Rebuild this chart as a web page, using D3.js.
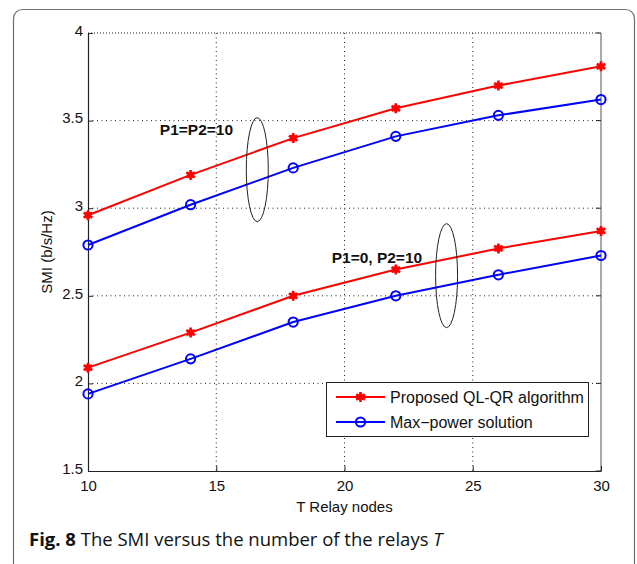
<!DOCTYPE html>
<html>
<head>
<meta charset="utf-8">
<script src="https://cdn.jsdelivr.net/npm/d3@7"></script>
<style>
  body { margin: 0; background: #fff; }
  svg { display: block; }
</style>
</head>
<body>
<svg id="chart" width="637" height="564"></svg>
<script>
// relay counts on x axis
var relays = [10, 14, 18, 22, 26, 30];

// SMI values
var qlqrHigh = [2.96, 3.19, 3.40, 3.57, 3.70, 3.81];   // P1=P2=10
var maxpHigh = [2.79, 3.02, 3.23, 3.41, 3.53, 3.62];
var qlqrLow  = [2.09, 2.29, 2.50, 2.65, 2.77, 2.87];   // P1=0, P2=10
var maxpLow  = [1.94, 2.14, 2.35, 2.50, 2.62, 2.73];

var xTicks = [10, 15, 20, 25, 30];
var yTicks = [1.5, 2, 2.5, 3, 3.5, 4];

var legendNames = ["Proposed QL-QR algorithm", "Max\u2212power solution"];

var svg = d3.select("#chart");

var margin = {left: 88, top: 33, right: 36, bottom: 93},
    width = 637 - margin.left - margin.right,
    height = 564 - margin.top - margin.bottom;

var font = "Liberation Sans, Arial, sans-serif";

// outer panel frame (rounded card, bottom runs off the page)
svg.append("rect")
    .attr("x", 13.5)
    .attr("y", 9.5)
    .attr("width", 621)
    .attr("height", 600)
    .attr("rx", 9)
    .attr("fill", "none")
    .attr("stroke", "#6e6e6e")
    .attr("stroke-width", 1.2);

var g = svg.append("g")
    .attr("transform", "translate(" + margin.left + "," + margin.top + ")");

var x = d3.scaleLinear().domain([10, 30]).range([0, width]);
var y = d3.scaleLinear().domain([1.5, 4]).range([height, 0]);

// dotted grid
g.append("g").selectAll("line")
    .data(xTicks.slice(1, -1))
    .enter().append("line")
    .attr("x1", x).attr("x2", x)
    .attr("y1", 0).attr("y2", height)
    .attr("stroke", "#222")
    .attr("stroke-width", 1)
    .attr("stroke-dasharray", "1,3.5");

g.append("g").selectAll("line")
    .data(yTicks.slice(1, -1))
    .enter().append("line")
    .attr("y1", y).attr("y2", y)
    .attr("x1", 0).attr("x2", width)
    .attr("stroke", "#222")
    .attr("stroke-width", 1)
    .attr("stroke-dasharray", "1,3.5");

// top border is dotted in the source, right border solid
g.append("line")
    .attr("x1", 0).attr("x2", width)
    .attr("y1", y(4)).attr("y2", y(4))
    .attr("stroke", "#222")
    .attr("stroke-dasharray", "1,2");
g.append("line")
    .attr("x1", width).attr("x2", width)
    .attr("y1", 0).attr("y2", height)
    .attr("stroke", "#555");

// axes
var xAxis = d3.axisBottom(x).tickValues(xTicks).tickSizeInner(-5).tickSizeOuter(0).tickPadding(9);
var yAxis = d3.axisLeft(y).tickValues(yTicks).tickSizeInner(-5).tickSizeOuter(0).tickPadding(5)
    .tickFormat(function(d) { return d; });

var gx = g.append("g")
    .attr("transform", "translate(0," + height + ")")
    .call(xAxis);
var gy = g.append("g").call(yAxis);

[gx, gy].forEach(function(a) {
    a.select(".domain").attr("stroke", "#222").attr("stroke-width", 1.2);
    a.selectAll(".tick line").attr("stroke", "#222");
    a.selectAll("text")
        .attr("font-family", font)
        .attr("font-size", 15)
        .attr("fill", "#111");
});
gy.selectAll(".tick text").attr("dy", "0.15em");

// ticks on the right side too
g.append("g").selectAll("line")
    .data(yTicks)
    .enter().append("line")
    .attr("x1", width).attr("x2", width - 5)
    .attr("y1", y).attr("y2", y)
    .attr("stroke", "#222");

// series
var series = [
    {vals: qlqrHigh, color: "#ff0000", marker: "star"},
    {vals: maxpHigh, color: "#0000ff", marker: "circle"},
    {vals: qlqrLow,  color: "#ff0000", marker: "star"},
    {vals: maxpLow,  color: "#0000ff", marker: "circle"}
];

var line = d3.line()
    .x(function(d, i) { return x(relays[i]); })
    .y(function(d) { return y(d); });

var star = d3.symbol().type(d3.symbolAsterisk).size(70);

function drawMarker(sel, kind, color) {
    if (kind == "star") {
        sel.append("path")
            .attr("d", star)
            .attr("fill", "none")
            .attr("stroke", color)
            .attr("stroke-width", 2.6);
        sel.append("circle")
            .attr("r", 3.4)
            .attr("fill", color);
    } else {
        sel.append("circle")
            .attr("r", 4.6)
            .attr("fill", "none")
            .attr("stroke", color)
            .attr("stroke-width", 2);
    }
}

series.forEach(function(s) {
    g.append("path")
        .datum(s.vals)
        .attr("d", line)
        .attr("fill", "none")
        .attr("stroke", s.color)
        .attr("stroke-width", 2);

    g.append("g").selectAll("g")
        .data(s.vals)
        .enter().append("g")
        .attr("transform", function(d, i) { return "translate(" + x(relays[i]) + "," + y(d) + ")"; })
        .each(function() { drawMarker(d3.select(this), s.marker, s.color); });
});

// annotation ellipses and labels
var notes = [
    {cx: 16.6, cy: 3.22, label: "P1=P2=10", lx: 12.8, ly: 3.42},
    {cx: 23.98, cy: 2.615, label: "P1=0, P2=10", lx: 19.5, ly: 2.69}
];

notes.forEach(function(n) {
    g.append("ellipse")
        .attr("cx", x(n.cx))
        .attr("cy", y(n.cy))
        .attr("rx", 11)
        .attr("ry", 52)
        .attr("fill", "none")
        .attr("stroke", "#222")
        .attr("stroke-width", 1);
    g.append("text")
        .attr("x", x(n.lx))
        .attr("y", y(n.ly))
        .attr("font-family", font)
        .attr("font-weight", "bold")
        .attr("font-size", 15.5)
        .attr("fill", "#111")
        .text(n.label);
});

// legend
var leg = svg.append("g").attr("transform", "translate(326,382)");
leg.append("rect")
    .attr("x", 0.5).attr("y", 0.5)
    .attr("width", 262).attr("height", 54)
    .attr("fill", "#fff")
    .attr("stroke", "#222")
    .attr("stroke-width", 1);

legendNames.forEach(function(name, i) {
    var row = leg.append("g").attr("transform", "translate(0," + (15 + i * 25) + ")");
    row.append("line")
        .attr("x1", 10).attr("x2", 59)
        .attr("stroke", series[i].color)
        .attr("stroke-width", 2);
    drawMarker(row.append("g").attr("transform", "translate(34.5,0)"), series[i].marker, series[i].color);
    row.append("text")
        .attr("x", 64)
        .attr("y", 6)
        .attr("font-family", font)
        .attr("font-size", 16)
        .attr("fill", "#111")
        .text(name);
});

// axis titles
svg.append("text")
    .attr("x", margin.left + width / 2)
    .attr("y", 512)
    .attr("text-anchor", "middle")
    .attr("font-family", font)
    .attr("font-size", 15)
    .attr("fill", "#111")
    .text("T Relay nodes");

svg.append("text")
    .attr("transform", "translate(52," + (margin.top + height / 2) + ") rotate(-90)")
    .attr("text-anchor", "middle")
    .attr("font-family", font)
    .attr("font-size", 15)
    .attr("fill", "#111")
    .text("SMI (b/s/Hz)");

// caption
var cap = svg.append("text")
    .attr("x", 29)
    .attr("y", 546)
    .attr("font-family", "Open Sans, sans-serif")
    .attr("font-size", 18.5)
    .attr("fill", "#111");
cap.append("tspan").attr("font-weight", "bold").text("Fig. 8");
cap.append("tspan").text(" The SMI versus the number of the relays ");
cap.append("tspan").attr("font-style", "italic").text("T");
</script>
</body>
</html>
